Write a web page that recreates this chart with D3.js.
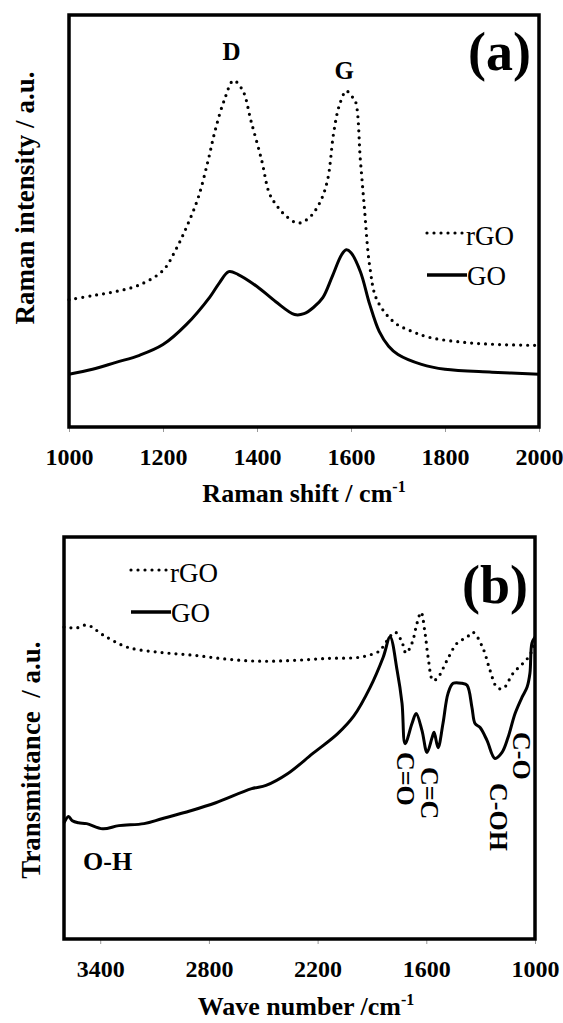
<!DOCTYPE html>
<html>
<head>
<meta charset="utf-8">
<title>Raman and FTIR spectra</title>
<script src="https://cdn.jsdelivr.net/npm/d3@7"></script>
<style>
  body { margin: 0; background: #fff; }
  text { font-family: "Liberation Serif", "Times New Roman", serif; fill: #000; }
</style>
</head>
<body>
<script>
// ---- data ----
var ramanTicks = [1000, 1200, 1400, 1600, 1800, 2000];
var ftirTicks = [3400, 2800, 2200, 1600, 1000];

// (a) Raman, [shift, intensity]
var ramanGO = [[1000,12.8],[1050,14.0],[1100,15.7],[1150,17.4],[1200,20.0],[1250,24.9],[1300,31.6],
  [1320,35.0],[1340,37.7],[1360,37.0],[1400,34.1],[1440,30.4],[1480,27.3],[1500,27.5],[1520,29.0],
  [1540,31.4],[1560,36.5],[1580,41.8],[1590,43.0],[1600,42.3],[1620,37.7],[1640,29.7],[1660,23.2],
  [1680,19.6],[1700,17.6],[1750,15.2],[1800,14.0],[1900,13.3],[2000,12.8]];
var ramanRGO = [[1000,30.9],[1050,31.9],[1100,32.9],[1150,34.5],[1200,38.0],[1227,43.0],[1250,48.5],
  [1275,55.7],[1296,64.7],[1311,72.0],[1330,79.2],[1350,84.1],[1370,81.6],[1387,74.4],[1410,64.7],
  [1426,56.8],[1441,53.9],[1460,51.4],[1487,49.5],[1510,50.7],[1533,54.3],[1550,59.9],[1563,71.3],
  [1575,78.0],[1590,81.6],[1600,80.4],[1609,79.2],[1620,64.7],[1628,53.9],[1640,38.9],[1655,30.9],
  [1692,25.4],[1730,23.2],[1769,21.7],[1845,20.5],[1920,20.0],[2000,19.8]];

// (b) FTIR, [wave number, transmittance]
var ftirGO = [[3600,28.9],[3575,30.5],[3554,29.4],[3520,28.9],[3475,28.7],[3386,27.4],[3297,28.2],
  [3158,28.7],[3060,29.9],[2901,31.9],[2762,33.9],[2564,37.4],[2485,38.2],[2366,41.1],[2228,46.1],
  [2089,51.1],[2000,55.5],[1910,62.6],[1838,70.1],[1800,75.1],[1761,66.8],[1734,58.6],[1717,48.6],
  [1679,53.6],[1656,56.1],[1624,51.9],[1596,46.4],[1568,50.1],[1557,51.4],[1535,47.6],[1508,53.6],
  [1480,61.1],[1452,63.6],[1403,63.6],[1375,63.1],[1348,57.6],[1331,53.6],[1303,52.6],[1265,49.4],
  [1221,44.9],[1182,46.4],[1149,50.1],[1110,56.1],[1072,60.1],[1044,62.6],[1028,66.1],[1017,73.6],
  [1000,75.1]];
var ftirRGO = [[3600,77.6],[3583,77.6],[3538,77.3],[3472,78.1],[3383,75.6],[3251,72.6],[3069,71.3],
  [2887,70.6],[2699,69.6],[2517,69.1],[2335,69.3],[2148,69.8],[1966,70.1],[1872,71.3],[1855,71.8],
  [1772,76.3],[1734,73.8],[1712,71.1],[1679,73.6],[1651,78.6],[1629,81.3],[1607,76.1],[1590,70.1],
  [1563,64.3],[1535,65.1],[1486,69.3],[1430,73.6],[1375,75.1],[1342,76.3],[1287,72.3],[1248,66.8],
  [1210,62.6],[1176,62.3],[1121,66.1],[1066,68.6],[1028,70.6],[1011,72.6],[1000,73.6]];

var ramanPeaks = [["D", 1350, 89], ["G", 1590, 84.5]];
var ftirBands = ["C=O", "C=C", "C-OH", "C-O"];
var ftirBandPos = [1716, 1583, 1203, 1072];

var svg = d3.select("body").append("svg").attr("width", 563).attr("height", 1023);

function panel(o) {
  var x = d3.scaleLinear().domain(o.xdom).range([o.left, o.right]);
  var y = d3.scaleLinear().domain([0, 100]).range([o.bottom, o.top]);
  var g = svg.append("g");

  g.append("g")
    .attr("transform", "translate(0," + o.bottom + ")")
    .call(d3.axisBottom(x).tickValues(o.ticks).tickSize(5).tickPadding(16).tickFormat(d3.format("d")))
    .call(function(a) {
      a.select(".domain").remove();
      a.selectAll("line").attr("stroke", "#999").attr("stroke-width", 1);
      a.selectAll("text").attr("font-size", 24).attr("font-weight", "bold");
    });

  var line = d3.line()
    .x(function(d) { return x(d[0]); })
    .y(function(d) { return y(d[1]); })
    .curve(d3.curveCatmullRom);

  g.append("path").datum(o.dotted).attr("d", line)
    .attr("fill", "none").attr("stroke", "#000").attr("stroke-width", 3.2)
    .attr("stroke-linecap", "round").attr("stroke-dasharray", "0,7");
  g.append("path").datum(o.solid).attr("d", line)
    .attr("fill", "none").attr("stroke", "#000").attr("stroke-width", 3)
    .attr("stroke-linejoin", "round");

  g.append("rect")
    .attr("x", o.left).attr("y", o.top)
    .attr("width", o.right - o.left).attr("height", o.bottom - o.top)
    .attr("fill", "none").attr("stroke", "#000").attr("stroke-width", 3.5);

  // legend
  var lg = g.append("g");
  lg.append("line").attr("x1", o.leg[0]).attr("x2", o.leg[0] + 38).attr("y1", o.leg[1]).attr("y2", o.leg[1])
    .attr("stroke", "#000").attr("stroke-width", 3.2).attr("stroke-linecap", "round").attr("stroke-dasharray", "0,7");
  lg.append("text").attr("x", o.leg[0] + 39).attr("y", o.leg[1] + 12).attr("font-size", 27).text("rGO");
  lg.append("line").attr("x1", o.leg[0]).attr("x2", o.leg[0] + 40).attr("y1", o.leg[1] + 42).attr("y2", o.leg[1] + 42)
    .attr("stroke", "#000").attr("stroke-width", 3.5);
  lg.append("text").attr("x", o.leg[0] + 40).attr("y", o.leg[1] + 52).attr("font-size", 27).text("GO");

  // panel letter
  g.append("text").attr("x", o.tag[0]).attr("y", o.tag[1])
    .attr("font-size", 54).attr("font-weight", "bold").text(o.tagText);

  // axis titles
  var xt = g.append("text").attr("x", o.xtitle[0]).attr("y", o.xtitle[1])
    .attr("text-anchor", "middle").attr("font-size", 26).attr("font-weight", "bold");
  xt.append("tspan").text(o.xtitleText);
  xt.append("tspan").attr("font-size", 16).attr("dy", -10).text("-1");

  g.append("text")
    .attr("transform", "translate(" + o.ytitle[0] + "," + o.ytitle[1] + ") rotate(-90)")
    .attr("text-anchor", "middle").attr("font-size", 27).attr("font-weight", "bold")
    .attr("xml:space", "preserve").style("white-space", "pre")
    .text(o.ytitleText);

  return { x: x, y: y, g: g };
}

var a = panel({
  xdom: [1000, 2000], ticks: ramanTicks, left: 69, right: 539, top: 15, bottom: 427,
  dotted: ramanRGO, solid: ramanGO, leg: [427, 233], tag: [468, 70], tagText: "(a)",
  xtitle: [304, 502], xtitleText: "Raman shift / cm",
  ytitle: [34, 198], ytitleText: "Raman intensity / a.u."
});

a.g.selectAll(".peak").data(ramanPeaks).enter().append("text")
  .attr("x", function(d) { return a.x(d[1]) - 2; })
  .attr("y", function(d) { return a.y(d[2]); })
  .attr("text-anchor", "middle").attr("font-size", 25).attr("font-weight", "bold")
  .text(function(d) { return d[0]; });

var b = panel({
  xdom: [3600, 1000], ticks: ftirTicks, left: 64, right: 535, top: 537, bottom: 939,
  dotted: ftirRGO, solid: ftirGO, leg: [131, 570], tag: [462, 603], tagText: "(b)",
  xtitle: [306, 1015], xtitleText: "Wave number /cm",
  ytitle: [40, 760], ytitleText: "Transmittance  / a.u."
});

var bandTop = [752, 767, 783, 732];
b.g.selectAll(".band").data(ftirBands).enter().append("text")
  .attr("transform", function(d, i) {
    return "translate(" + b.x(ftirBandPos[i]) + "," + bandTop[i] + ") rotate(90)";
  })
  .attr("dominant-baseline", "central")
  .attr("font-size", 26).attr("font-weight", "bold")
  .text(function(d) { return d; });

b.g.append("text").attr("x", 83).attr("y", 870)
  .attr("font-size", 26).attr("font-weight", "bold").text("O-H");
</script>
</body>
</html>
